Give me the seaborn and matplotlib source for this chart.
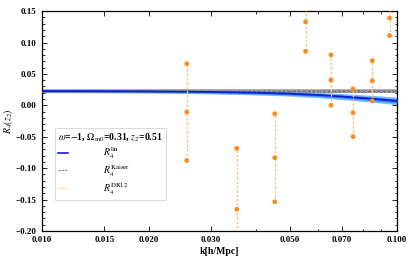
import numpy as np
import pandas as pd
import matplotlib
matplotlib.use('Agg')
import matplotlib.pyplot as plt
import seaborn as sns
from matplotlib.ticker import FixedLocator, NullFormatter, MultipleLocator, FuncFormatter, LogLocator
from matplotlib.lines import Line2D

# Modelo
k_model = [0.010, 0.015, 0.020, 0.030, 0.040, 0.050, 0.060, 0.070, 0.080, 0.090, 0.100]
r4_lin = [0.0227, 0.0225, 0.0222, 0.0213, 0.0201, 0.0186, 0.0165, 0.0140, 0.0116, 0.0093, 0.0070]
r4_lin_err = [0.0025, 0.0026, 0.0028, 0.0031, 0.0035, 0.0039, 0.0043, 0.0048, 0.0052, 0.0056, 0.0060]
r4_kaiser = [0.0227, 0.0227, 0.0227, 0.0227, 0.0227, 0.0227, 0.0227, 0.0227, 0.0227, 0.0227, 0.0227]
r4_kaiser_err = 0.0027

# Datos DR12
k_dr12 = [0.0256, 0.0354, 0.0453, 0.0553, 0.0652, 0.0752, 0.0852, 0.0953]
r4_dr12 = [-0.0107, -0.1655, -0.0834, 0.133, 0.0402, -0.0118, 0.0391, 0.139]
r4_dr12_err = [0.077, 0.097, 0.070, 0.047, 0.040, 0.038, 0.032, 0.028]

plt.rcParams['font.family'] = ['Liberation Serif', 'DejaVu Serif']
plt.rcParams['mathtext.fontset'] = 'stix'

orange = '#ff8c1a'
orange_light = '#ffc285'

fig = plt.figure(figsize=(4.15, 2.58), dpi=100)
ax = fig.add_axes([0.1005, 0.1047, 0.8561, 0.8523])

df = pd.DataFrame({'k': k_model, 'lin': r4_lin, 'lerr': r4_lin_err, 'kaiser': r4_kaiser})
lo = df['lin'] - df['lerr']
hi = df['lin'] + df['lerr']

# Bandas
ax.fill_between(df['k'], df['kaiser'] - r4_kaiser_err, df['kaiser'] + r4_kaiser_err,
                color='#a8a8a8', alpha=0.9, lw=0, zorder=1)
ax.fill_between(df['k'], lo, hi, color='#6aa8ff', alpha=0.85, lw=0, zorder=2)
ax.fill_between(df['k'], df['lin'] - df['lerr'] * 0.5, df['lin'] + df['lerr'] * 0.5,
                color='#1f86ff', alpha=0.9, lw=0, zorder=3)
sns.lineplot(x=df['k'], y=df['kaiser'], ax=ax, color='#707070', lw=0.8,
             linestyle=(0, (3, 1.5)), zorder=4)
sns.lineplot(x=df['k'], y=df['kaiser'] + r4_kaiser_err * 0.6, ax=ax, color='#808080', lw=0.6,
             linestyle=(0, (3, 1.5)), zorder=4)
sns.lineplot(x=df['k'], y=df['kaiser'] - r4_kaiser_err * 0.6, ax=ax, color='#808080', lw=0.6,
             linestyle=(0, (3, 1.5)), zorder=4)
sns.lineplot(x=df['k'], y=df['lin'], ax=ax, color='#0a1fd6', lw=1.3, zorder=5)

# Barras de error DR12
kd = np.array(k_dr12)
rd = np.array(r4_dr12)
ed = np.array(r4_dr12_err)
ax.vlines(kd, rd - ed, rd + ed, colors=orange_light, lw=1.0, linestyles=(0, (2, 1.2)), zorder=6)
pts = pd.DataFrame({'k': np.concatenate([kd, kd, kd]),
                    'r': np.concatenate([rd, rd - ed, rd + ed])})
sns.scatterplot(data=pts, x='k', y='r', ax=ax, color=orange, s=12, edgecolor='none', zorder=7)

ax.set_xscale('log')
ax.set_xlim(0.01, 0.1)
ax.set_ylim(-0.20, 0.15)

xt = [0.010, 0.015, 0.020, 0.030, 0.050, 0.070, 0.100]
ax.xaxis.set_major_locator(FixedLocator(xt))
ax.xaxis.set_major_formatter(FuncFormatter(lambda v, p: f'{v:.3f}'))
ax.xaxis.set_minor_locator(LogLocator(base=10, subs=np.arange(1, 10) * 1.0, numticks=20))
ax.xaxis.set_minor_formatter(NullFormatter())
ax.yaxis.set_major_locator(MultipleLocator(0.05))
ax.yaxis.set_minor_locator(MultipleLocator(0.01))
ax.yaxis.set_major_formatter(FuncFormatter(lambda v, p: f'{v:.2f}'.replace('-', '\u2212')))

ax.tick_params(which='both', direction='in', top=True, right=True, labelsize=6.5, width=0.6)
ax.tick_params(which='major', length=3.5)
ax.tick_params(which='minor', length=1.8)
for lab in ax.get_xticklabels() + ax.get_yticklabels():
    lab.set_fontweight('bold')
for s in ax.spines.values():
    s.set_linewidth(0.9)

ax.set_xlabel('k[h/Mpc]', fontsize=7, fontweight='bold', labelpad=2)
ax.set_ylabel(r'$R_4(z_2)$', fontsize=7, labelpad=1)

handles = [Line2D([], [], color='#0a1fd6', lw=1.2),
           Line2D([], [], color='#888888', lw=0.8, linestyle=(0, (2, 1))),
           Line2D([], [], color=orange, lw=0.8, alpha=0.6, linestyle=(0, (1, 1)))]
labels = [r'$R_4^{\rm lin}$', r'$R_4^{\rm Kaiser}$', r'$R_4^{\rm DR12}$']
leg = ax.legend(handles, labels, loc='lower left', bbox_to_anchor=(0.037, 0.141),
                borderaxespad=0, alignment='left',
                title=r'$\omega$=$-$1, $\Omega_{\rm m0}$=0.31, $z_2$=0.51',
                fontsize=7, title_fontsize=7, handlelength=1.0, handletextpad=3.6,
                fancybox=False, framealpha=1, edgecolor='#dddddd', borderpad=0.35,
                labelspacing=0.15)
leg.get_frame().set_linewidth(0.8)
leg.get_title().set_fontweight('bold')

fig.savefig('out.png', dpi=100)
